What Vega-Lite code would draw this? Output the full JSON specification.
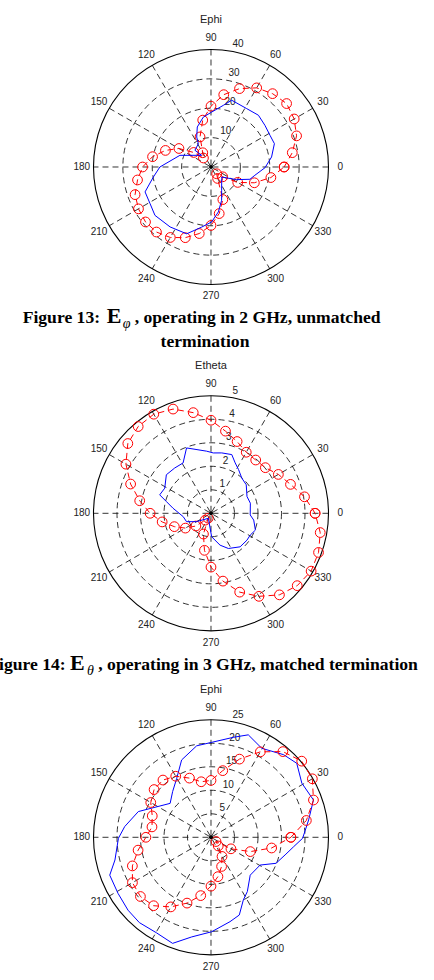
{
"$schema": "https://vega.github.io/schema/vega-lite/v6.json",
"padding": 0, "spacing": 0, "bounds": "flush", "background": "white",
"config": {"view": {"stroke": null}, "text": {"font": "Liberation Sans", "fontSize": 10, "color": "#222222"}},
"resolve": {"scale": {"x": "independent", "y": "independent", "size": "independent"}},
"datasets": {
"spokes": [{"a":0},{"a":30},{"a":60},{"a":90},{"a":120},{"a":150}],
"angles": [{"a":0},{"a":30},{"a":60},{"a":90},{"a":120},{"a":150},{"a":180},{"a":210},{"a":240},{"a":270},{"a":300},{"a":330}],
"red1": [{"a":0,"r":24.9},{"a":10,"r":28.1},{"a":20,"r":31.0},{"a":30,"r":32.7},{"a":40,"r":33.6},{"a":50,"r":32.6},{"a":60,"r":31.1},{"a":70,"r":28.4},{"a":80,"r":25.0},{"a":90,"r":20.7},{"a":100,"r":16.2},{"a":110,"r":10.9},{"a":120,"r":5.6},{"a":130,"r":4.0},{"a":140,"r":7.7},{"a":150,"r":12.6},{"a":160,"r":16.5},{"a":170,"r":20.2},{"a":180,"r":23.3},{"a":190,"r":25.4},{"a":200,"r":27.5},{"a":210,"r":28.5},{"a":220,"r":29.1},{"a":230,"r":28.9},{"a":240,"r":27.7},{"a":250,"r":25.6},{"a":260,"r":23.0},{"a":270,"r":19.9},{"a":280,"r":16.1},{"a":290,"r":11.8},{"a":300,"r":4.5},{"a":310,"r":3.0},{"a":320,"r":5.2},{"a":330,"r":10.5},{"a":340,"r":15.7},{"a":350,"r":20.7},{"a":360,"r":24.9}],
"blue1": [{"i":0,"a":316.8,"r":5.0},{"i":1,"a":333.7,"r":9.7},{"i":2,"a":342.5,"r":13.9},{"i":3,"a":349.3,"r":15.2},{"i":4,"a":359.3,"r":18.4},{"i":5,"a":9.4,"r":20.9},{"i":6,"a":20.2,"r":23.0},{"i":7,"a":28.2,"r":22.8},{"i":8,"a":37.7,"r":23.2},{"i":9,"a":47.5,"r":23.9},{"i":10,"a":58.6,"r":23.3},{"i":11,"a":72.8,"r":23.8},{"i":12,"a":78.7,"r":21.4},{"i":13,"a":89.3,"r":18.7},{"i":14,"a":98.7,"r":17.2},{"i":15,"a":108.9,"r":14.4},{"i":16,"a":115.5,"r":11.3},{"i":17,"a":118.5,"r":9.0},{"i":18,"a":133.8,"r":7.9},{"i":19,"a":128.7,"r":5.1},{"i":20,"a":159.4,"r":11.3},{"i":21,"a":180,"r":17.4},{"i":22,"a":189.8,"r":19.9},{"i":23,"a":200.7,"r":24.0},{"i":24,"a":211,"r":24.2},{"i":25,"a":220.8,"r":25.2},{"i":26,"a":235.7,"r":24.7},{"i":27,"a":250,"r":24.2},{"i":28,"a":261.2,"r":20.7},{"i":29,"a":270.7,"r":18.7},{"i":30,"a":279.3,"r":15.5},{"i":31,"a":287.7,"r":11.9},{"i":32,"a":294.6,"r":8.7},{"i":33,"a":312.4,"r":5.4},{"i":34,"a":316.8,"r":5.0}],
"red2": [{"a":0,"r":4.43},{"a":10,"r":4.04},{"a":20,"r":3.6},{"a":30,"r":3.31},{"a":40,"r":3.02},{"a":50,"r":2.96},{"a":60,"r":3.0},{"a":70,"r":3.25},{"a":80,"r":3.55},{"a":90,"r":3.96},{"a":100,"r":4.35},{"a":110,"r":4.72},{"a":120,"r":4.87},{"a":130,"r":4.82},{"a":140,"r":4.62},{"a":150,"r":4.18},{"a":160,"r":3.64},{"a":170,"r":3.08},{"a":180,"r":2.59},{"a":190,"r":2.11},{"a":200,"r":1.66},{"a":210,"r":1.26},{"a":220,"r":0.84},{"a":230,"r":0.38},{"a":240,"r":0.24},{"a":250,"r":0.94},{"a":260,"r":1.6},{"a":270,"r":2.29},{"a":280,"r":2.93},{"a":290,"r":3.57},{"a":300,"r":4.08},{"a":310,"r":4.53},{"a":320,"r":4.79},{"a":330,"r":4.92},{"a":340,"r":4.87},{"a":350,"r":4.72},{"a":360,"r":4.43}],
"blue2": [{"i":0,"a":271.6,"r":1.0},{"i":1,"a":285.9,"r":1.41},{"i":2,"a":296.3,"r":1.67},{"i":3,"a":311,"r":1.89},{"i":4,"a":323.2,"r":1.91},{"i":5,"a":330.9,"r":1.91},{"i":6,"a":339.3,"r":2.02},{"i":7,"a":351,"r":1.84},{"i":8,"a":357.6,"r":1.67},{"i":9,"a":14.4,"r":1.73},{"i":10,"a":25,"r":1.69},{"i":11,"a":39,"r":1.93},{"i":12,"a":48.8,"r":1.99},{"i":13,"a":57.8,"r":2.2},{"i":14,"a":64.4,"r":2.38},{"i":15,"a":70.5,"r":2.65},{"i":16,"a":79.9,"r":2.61},{"i":17,"a":87.8,"r":2.57},{"i":18,"a":94,"r":2.65},{"i":19,"a":110.5,"r":2.97},{"i":20,"a":119,"r":2.45},{"i":21,"a":128.7,"r":2.47},{"i":22,"a":139.2,"r":2.51},{"i":23,"a":151.5,"r":2.24},{"i":24,"a":160.2,"r":2.32},{"i":25,"a":165.3,"r":1.96},{"i":26,"a":172.4,"r":1.63},{"i":27,"a":186.9,"r":1.19},{"i":28,"a":198.9,"r":1.1},{"i":29,"a":210,"r":0.71},{"i":30,"a":242,"r":0.24},{"i":31,"a":271.6,"r":1.0}],
"red3": [{"a":0,"r":17.0},{"a":10,"r":20.6},{"a":20,"r":23.2},{"a":30,"r":24.9},{"a":40,"r":25.2},{"a":50,"r":23.8},{"a":60,"r":21.0},{"a":70,"r":17.7},{"a":80,"r":14.4},{"a":90,"r":12.1},{"a":100,"r":12.0},{"a":110,"r":13.4},{"a":120,"r":15.0},{"a":130,"r":15.9},{"a":140,"r":15.8},{"a":150,"r":14.8},{"a":160,"r":13.3},{"a":170,"r":12.75},{"a":180,"r":13.85},{"a":190,"r":15.75},{"a":200,"r":17.8},{"a":210,"r":19.3},{"a":220,"r":19.6},{"a":230,"r":19.0},{"a":240,"r":17.1},{"a":250,"r":14.9},{"a":260,"r":12.6},{"a":270,"r":10.4},{"a":280,"r":8.5},{"a":290,"r":6.6},{"a":300,"r":4.7},{"a":310,"r":2.4},{"a":320,"r":1.4},{"a":330,"r":4.9},{"a":340,"r":8.9},{"a":350,"r":13.1},{"a":360,"r":17.0}],
"blue3": [{"i":0,"a":359.4,"r":19.5},{"i":1,"a":10.1,"r":21.1},{"i":2,"a":20,"r":23.2},{"i":3,"a":30.8,"r":22.5},{"i":4,"a":40.8,"r":24.1},{"i":5,"a":48.7,"r":23.4},{"i":6,"a":60.3,"r":21.8},{"i":7,"a":70,"r":23.2},{"i":8,"a":77.4,"r":21.8},{"i":9,"a":89.6,"r":20.2},{"i":10,"a":98.9,"r":19.7},{"i":11,"a":110.8,"r":17.6},{"i":12,"a":120.2,"r":14.5},{"i":13,"a":130,"r":12.7},{"i":14,"a":140.3,"r":11.3},{"i":15,"a":160.5,"r":16.4},{"i":16,"a":172.9,"r":18.5},{"i":17,"a":180.6,"r":19.7},{"i":18,"a":193.3,"r":21.0},{"i":19,"a":200.5,"r":23.0},{"i":20,"a":211.1,"r":23.1},{"i":21,"a":221.3,"r":23.5},{"i":22,"a":230,"r":23.7},{"i":23,"a":240.3,"r":23.4},{"i":24,"a":250.1,"r":24.0},{"i":25,"a":259,"r":21.6},{"i":26,"a":270.4,"r":20.1},{"i":27,"a":282.7,"r":18.4},{"i":28,"a":290,"r":17.6},{"i":29,"a":297.3,"r":15.0},{"i":30,"a":303.8,"r":13.9},{"i":31,"a":316,"r":11.6},{"i":32,"a":330.5,"r":12.0},{"i":33,"a":338.2,"r":14.9},{"i":34,"a":346.6,"r":16.2},{"i":35,"a":353.5,"r":17.7},{"i":36,"a":359.4,"r":19.5}]
},
"vconcat": [
{
"width": 434, "height": 352,
"layer": [
{"data": {"values": [{"v":10},{"v":20},{"v":30}]},
 "mark": {"type":"point","shape":"circle","filled":false,"color":"black","strokeWidth":0.8,"strokeDash":[6,4],"opacity":1},
 "encoding": {"x":{"datum":0,"type":"quantitative","scale":{"domain":[-1.7957,1.8979],"nice":false,"zero":false},"axis":null},"y":{"datum":0,"type":"quantitative","scale":{"domain":[-1.5745,1.4213],"nice":false,"zero":false},"axis":null},"size":{"field":"v","type":"quantitative","scale":{"type":"pow","exponent":2,"domain":[0,40],"range":[0,55225]},"legend":null}}},
{"data": {"values": [{"v":40}]},
 "mark": {"type":"point","shape":"circle","filled":false,"color":"black","strokeWidth":1.1,"opacity":1},
 "encoding": {"x":{"datum":0,"type":"quantitative"},"y":{"datum":0,"type":"quantitative"},"size":{"field":"v","type":"quantitative","legend":null}}},
{"data": {"name":"spokes"},
 "transform": [{"calculate":"cos(datum.a*PI/180)","as":"x"},{"calculate":"sin(datum.a*PI/180)","as":"y"},{"calculate":"-datum.x","as":"x2"},{"calculate":"-datum.y","as":"y2"}],
 "mark": {"type":"rule","color":"black","strokeWidth":0.8,"strokeDash":[6,4]},
 "encoding": {"x":{"field":"x","type":"quantitative"},"y":{"field":"y","type":"quantitative"},"x2":{"field":"x2"},"y2":{"field":"y2"}}},
{"data": {"name":"angles"},
 "transform": [{"calculate":"1.1*cos(datum.a*PI/180)","as":"x"},{"calculate":"1.1*sin(datum.a*PI/180)","as":"y"}],
 "mark": {"type":"text","align":"center","baseline":"middle"},
 "encoding": {"x":{"field":"x","type":"quantitative"},"y":{"field":"y","type":"quantitative"},"text":{"field":"a","type":"quantitative","format":"d"}}},
{"data": {"values": [{"v":10},{"v":20},{"v":30},{"v":40}]},
 "transform": [{"calculate":"(datum.v+0.5)/40","as":"rr"},{"calculate":"datum.rr*cos(82*PI/180)","as":"x"},{"calculate":"datum.rr*sin(82*PI/180)","as":"y"}],
 "mark": {"type":"text","align":"left","baseline":"bottom","dx":5},
 "encoding": {"x":{"field":"x","type":"quantitative"},"y":{"field":"y","type":"quantitative"},"text":{"field":"v","type":"quantitative","format":"d"}}},
{"data": {"name":"red1"},
 "transform": [{"calculate":"datum.r/40*cos(datum.a*PI/180)","as":"x"},{"calculate":"datum.r/40*sin(datum.a*PI/180)","as":"y"}],
 "mark": {"type":"line","color":"#ff0000","strokeWidth":1,"strokeDash":[6,4]},
 "encoding": {"x":{"field":"x","type":"quantitative"},"y":{"field":"y","type":"quantitative"},"order":{"field":"a","type":"quantitative"}}},
{"data": {"name":"red1"},
 "transform": [{"calculate":"datum.r/40*cos(datum.a*PI/180)","as":"x"},{"calculate":"datum.r/40*sin(datum.a*PI/180)","as":"y"}],
 "mark": {"type":"point","shape":"circle","filled":false,"color":"#ff0000","strokeWidth":1,"size":95,"opacity":1},
 "encoding": {"x":{"field":"x","type":"quantitative"},"y":{"field":"y","type":"quantitative"}}},
{"data": {"name":"blue1"},
 "transform": [{"calculate":"datum.r/40*cos(datum.a*PI/180)","as":"x"},{"calculate":"datum.r/40*sin(datum.a*PI/180)","as":"y"}],
 "mark": {"type":"line","color":"#0000ff","strokeWidth":1},
 "encoding": {"x":{"field":"x","type":"quantitative"},"y":{"field":"y","type":"quantitative"},"order":{"field":"i","type":"quantitative"}}},
{"data": {"values": [{}]},
 "mark": {"type":"point","filled":true,"color":"black","size":16,"opacity":1},
 "encoding": {"x":{"datum":0,"type":"quantitative"},"y":{"datum":0,"type":"quantitative"}}},
{"data": {"values": [{"t":"Ephi"}]},
 "mark": {"type":"text","align":"center","baseline":"middle","fontSize":11},
 "encoding": {"x":{"datum":0,"type":"quantitative"},"y":{"datum":1.25,"type":"quantitative"},"text":{"field":"t"}}},
{"data": {"values": [{}]},
 "mark": {"type":"text","text":"Figure 13:","align":"left","baseline":"alphabetic","font":"Liberation Serif","fontWeight":"bold","fontSize":17.6,"color":"black"},
 "encoding": {"x":{"datum":-1.6026,"type":"quantitative"},"y":{"datum":-1.3277,"type":"quantitative"}}},
{"data": {"values": [{}]},
 "mark": {"type":"text","text":"E","align":"left","baseline":"alphabetic","font":"Liberation Serif","fontWeight":"bold","fontSize":22,"dx":84,"color":"black"},
 "encoding": {"x":{"datum":-1.6026,"type":"quantitative"},"y":{"datum":-1.3277,"type":"quantitative"}}},
{"data": {"values": [{}]},
 "mark": {"type":"text","text":"φ","align":"left","baseline":"alphabetic","font":"Liberation Serif","fontStyle":"italic","fontSize":14,"dx":100,"dy":5,"color":"black"},
 "encoding": {"x":{"datum":-1.6026,"type":"quantitative"},"y":{"datum":-1.3277,"type":"quantitative"}}},
{"data": {"values": [{}]},
 "mark": {"type":"text","text":", operating in 2 GHz, unmatched","align":"left","baseline":"alphabetic","font":"Liberation Serif","fontWeight":"bold","fontSize":17.6,"dx":112,"color":"black"},
 "encoding": {"x":{"datum":-1.6026,"type":"quantitative"},"y":{"datum":-1.3277,"type":"quantitative"}}},
{"data": {"values": [{}]},
 "mark": {"type":"text","text":"termination","align":"center","baseline":"alphabetic","font":"Liberation Serif","fontWeight":"bold","fontSize":17.6,"color":"black"},
 "encoding": {"x":{"datum":-0.0511,"type":"quantitative"},"y":{"datum":-1.5319,"type":"quantitative"}}}
]
},
{
"width": 434, "height": 328,
"layer": [
{"data": {"values": [{"v":1},{"v":2},{"v":3},{"v":4}]},
 "mark": {"type":"point","shape":"circle","filled":false,"color":"black","strokeWidth":0.8,"strokeDash":[6,4],"opacity":1},
 "encoding": {"x":{"datum":0,"type":"quantitative","scale":{"domain":[-1.7957,1.8979],"nice":false,"zero":false},"axis":null},"y":{"datum":0,"type":"quantitative","scale":{"domain":[-1.4187,1.3728],"nice":false,"zero":false},"axis":null},"size":{"field":"v","type":"quantitative","scale":{"type":"pow","exponent":2,"domain":[0,5],"range":[0,55225]},"legend":null}}},
{"data": {"values": [{"v":5}]},
 "mark": {"type":"point","shape":"circle","filled":false,"color":"black","strokeWidth":1.1,"opacity":1},
 "encoding": {"x":{"datum":0,"type":"quantitative"},"y":{"datum":0,"type":"quantitative"},"size":{"field":"v","type":"quantitative","legend":null}}},
{"data": {"name":"spokes"},
 "transform": [{"calculate":"cos(datum.a*PI/180)","as":"x"},{"calculate":"sin(datum.a*PI/180)","as":"y"},{"calculate":"-datum.x","as":"x2"},{"calculate":"-datum.y","as":"y2"}],
 "mark": {"type":"rule","color":"black","strokeWidth":0.8,"strokeDash":[6,4]},
 "encoding": {"x":{"field":"x","type":"quantitative"},"y":{"field":"y","type":"quantitative"},"x2":{"field":"x2"},"y2":{"field":"y2"}}},
{"data": {"name":"angles"},
 "transform": [{"calculate":"1.1*cos(datum.a*PI/180)","as":"x"},{"calculate":"1.1*sin(datum.a*PI/180)","as":"y"}],
 "mark": {"type":"text","align":"center","baseline":"middle"},
 "encoding": {"x":{"field":"x","type":"quantitative"},"y":{"field":"y","type":"quantitative"},"text":{"field":"a","type":"quantitative","format":"d"}}},
{"data": {"values": [{"v":1},{"v":2},{"v":3},{"v":4},{"v":5}]},
 "transform": [{"calculate":"(datum.v+0.05)/5","as":"rr"},{"calculate":"datum.rr*cos(82*PI/180)","as":"x"},{"calculate":"datum.rr*sin(82*PI/180)","as":"y"}],
 "mark": {"type":"text","align":"left","baseline":"bottom","dx":5},
 "encoding": {"x":{"field":"x","type":"quantitative"},"y":{"field":"y","type":"quantitative"},"text":{"field":"v","type":"quantitative","format":"d"}}},
{"data": {"name":"red2"},
 "transform": [{"calculate":"datum.r/5*cos(datum.a*PI/180)","as":"x"},{"calculate":"datum.r/5*sin(datum.a*PI/180)","as":"y"}],
 "mark": {"type":"line","color":"#ff0000","strokeWidth":1,"strokeDash":[6,4]},
 "encoding": {"x":{"field":"x","type":"quantitative"},"y":{"field":"y","type":"quantitative"},"order":{"field":"a","type":"quantitative"}}},
{"data": {"name":"red2"},
 "transform": [{"calculate":"datum.r/5*cos(datum.a*PI/180)","as":"x"},{"calculate":"datum.r/5*sin(datum.a*PI/180)","as":"y"}],
 "mark": {"type":"point","shape":"circle","filled":false,"color":"#ff0000","strokeWidth":1,"size":95,"opacity":1},
 "encoding": {"x":{"field":"x","type":"quantitative"},"y":{"field":"y","type":"quantitative"}}},
{"data": {"name":"blue2"},
 "transform": [{"calculate":"datum.r/5*cos(datum.a*PI/180)","as":"x"},{"calculate":"datum.r/5*sin(datum.a*PI/180)","as":"y"}],
 "mark": {"type":"line","color":"#0000ff","strokeWidth":1},
 "encoding": {"x":{"field":"x","type":"quantitative"},"y":{"field":"y","type":"quantitative"},"order":{"field":"i","type":"quantitative"}}},
{"data": {"values": [{}]},
 "mark": {"type":"point","filled":true,"color":"black","size":16,"opacity":1},
 "encoding": {"x":{"datum":0,"type":"quantitative"},"y":{"datum":0,"type":"quantitative"}}},
{"data": {"values": [{"t":"Etheta"}]},
 "mark": {"type":"text","align":"center","baseline":"middle","fontSize":11},
 "encoding": {"x":{"datum":0,"type":"quantitative"},"y":{"datum":1.25,"type":"quantitative"},"text":{"field":"t"}}},
{"data": {"values": [{}]},
 "mark": {"type":"text","text":"Figure 14:","align":"left","baseline":"alphabetic","font":"Liberation Serif","fontWeight":"bold","fontSize":17.6,"color":"black","clip":true},
 "encoding": {"x":{"datum":-1.8953,"type":"quantitative"},"y":{"datum":-1.3336,"type":"quantitative"}}},
{"data": {"values": [{}]},
 "mark": {"type":"text","text":"E","align":"left","baseline":"alphabetic","font":"Liberation Serif","fontWeight":"bold","fontSize":22,"dx":81.7,"color":"black","clip":true},
 "encoding": {"x":{"datum":-1.8953,"type":"quantitative"},"y":{"datum":-1.3336,"type":"quantitative"}}},
{"data": {"values": [{}]},
 "mark": {"type":"text","text":"θ","align":"left","baseline":"alphabetic","font":"Liberation Serif","fontStyle":"italic","fontSize":14,"dx":98.7,"dy":5,"color":"black","clip":true},
 "encoding": {"x":{"datum":-1.8953,"type":"quantitative"},"y":{"datum":-1.3336,"type":"quantitative"}}},
{"data": {"values": [{}]},
 "mark": {"type":"text","text":", operating in 3 GHz, matched termination","align":"left","baseline":"alphabetic","font":"Liberation Serif","fontWeight":"bold","fontSize":17.6,"dx":110,"color":"black","clip":true},
 "encoding": {"x":{"datum":-1.8953,"type":"quantitative"},"y":{"datum":-1.3336,"type":"quantitative"}}}
]
},
{
"width": 434, "height": 300,
"layer": [
{"data": {"values": [{"v":5},{"v":10},{"v":15},{"v":20}]},
 "mark": {"type":"point","shape":"circle","filled":false,"color":"black","strokeWidth":0.8,"strokeDash":[6,4],"opacity":1},
 "encoding": {"x":{"datum":0,"type":"quantitative","scale":{"domain":[-1.7957,1.8979],"nice":false,"zero":false},"axis":null},"y":{"datum":0,"type":"quantitative","scale":{"domain":[-1.2145,1.3387],"nice":false,"zero":false},"axis":null},"size":{"field":"v","type":"quantitative","scale":{"type":"pow","exponent":2,"domain":[0,25],"range":[0,55225]},"legend":null}}},
{"data": {"values": [{"v":25}]},
 "mark": {"type":"point","shape":"circle","filled":false,"color":"black","strokeWidth":1.1,"opacity":1},
 "encoding": {"x":{"datum":0,"type":"quantitative"},"y":{"datum":0,"type":"quantitative"},"size":{"field":"v","type":"quantitative","legend":null}}},
{"data": {"name":"spokes"},
 "transform": [{"calculate":"cos(datum.a*PI/180)","as":"x"},{"calculate":"sin(datum.a*PI/180)","as":"y"},{"calculate":"-datum.x","as":"x2"},{"calculate":"-datum.y","as":"y2"}],
 "mark": {"type":"rule","color":"black","strokeWidth":0.8,"strokeDash":[6,4]},
 "encoding": {"x":{"field":"x","type":"quantitative"},"y":{"field":"y","type":"quantitative"},"x2":{"field":"x2"},"y2":{"field":"y2"}}},
{"data": {"name":"angles"},
 "transform": [{"calculate":"1.1*cos(datum.a*PI/180)","as":"x"},{"calculate":"1.1*sin(datum.a*PI/180)","as":"y"}],
 "mark": {"type":"text","align":"center","baseline":"middle"},
 "encoding": {"x":{"field":"x","type":"quantitative"},"y":{"field":"y","type":"quantitative"},"text":{"field":"a","type":"quantitative","format":"d"}}},
{"data": {"values": [{"v":5},{"v":10},{"v":15},{"v":20},{"v":25}]},
 "transform": [{"calculate":"(datum.v+0.25)/25","as":"rr"},{"calculate":"datum.rr*cos(82*PI/180)","as":"x"},{"calculate":"datum.rr*sin(82*PI/180)","as":"y"}],
 "mark": {"type":"text","align":"left","baseline":"bottom","dx":5},
 "encoding": {"x":{"field":"x","type":"quantitative"},"y":{"field":"y","type":"quantitative"},"text":{"field":"v","type":"quantitative","format":"d"}}},
{"data": {"name":"blue3"},
 "transform": [{"calculate":"datum.r/25*cos(datum.a*PI/180)","as":"x"},{"calculate":"datum.r/25*sin(datum.a*PI/180)","as":"y"}],
 "mark": {"type":"line","color":"#0000ff","strokeWidth":1},
 "encoding": {"x":{"field":"x","type":"quantitative"},"y":{"field":"y","type":"quantitative"},"order":{"field":"i","type":"quantitative"}}},
{"data": {"name":"red3"},
 "transform": [{"calculate":"datum.r/25*cos(datum.a*PI/180)","as":"x"},{"calculate":"datum.r/25*sin(datum.a*PI/180)","as":"y"}],
 "mark": {"type":"line","color":"#ff0000","strokeWidth":1,"strokeDash":[6,4]},
 "encoding": {"x":{"field":"x","type":"quantitative"},"y":{"field":"y","type":"quantitative"},"order":{"field":"a","type":"quantitative"}}},
{"data": {"name":"red3"},
 "transform": [{"calculate":"datum.r/25*cos(datum.a*PI/180)","as":"x"},{"calculate":"datum.r/25*sin(datum.a*PI/180)","as":"y"}],
 "mark": {"type":"point","shape":"circle","filled":false,"color":"#ff0000","strokeWidth":1,"size":95,"opacity":1},
 "encoding": {"x":{"field":"x","type":"quantitative"},"y":{"field":"y","type":"quantitative"}}},
{"data": {"values": [{}]},
 "mark": {"type":"point","filled":true,"color":"black","size":16,"opacity":1},
 "encoding": {"x":{"datum":0,"type":"quantitative"},"y":{"datum":0,"type":"quantitative"}}},
{"data": {"values": [{"t":"Ephi"}]},
 "mark": {"type":"text","align":"center","baseline":"middle","fontSize":11},
 "encoding": {"x":{"datum":0,"type":"quantitative"},"y":{"datum":1.25,"type":"quantitative"},"text":{"field":"t"}}}
]
}
]
}
